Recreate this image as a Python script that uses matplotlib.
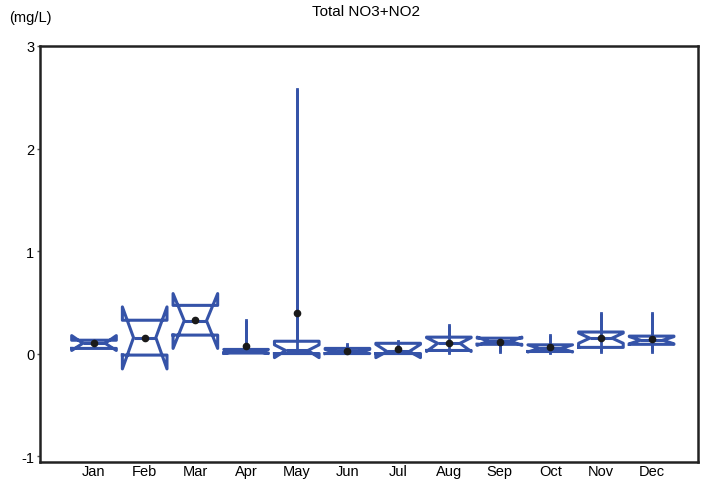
import matplotlib

matplotlib.use("Agg")
import matplotlib.pyplot as plt
import numpy as np

plt.rcParams["font.family"] = ["Liberation Sans", "DejaVu Sans"]

# Monthly box statistics (mg/L)
months = ["Jan", "Feb", "Mar", "Apr", "May", "Jun", "Jul", "Aug", "Sep", "Oct", "Nov", "Dec"]
q1 = [0.05, -0.015, 0.18, 0.005, 0.0, 0.0, 0.0, 0.03, 0.09, 0.02, 0.06, 0.09]
med = [0.10, 0.155, 0.32, 0.02, 0.03, 0.02, 0.02, 0.10, 0.12, 0.05, 0.15, 0.13]
q3 = [0.13, 0.325, 0.47, 0.04, 0.12, 0.05, 0.10, 0.16, 0.15, 0.085, 0.21, 0.17]
cilo = [0.03, -0.15, 0.05, 0.0, -0.04, 0.0, -0.04, 0.02, 0.08, 0.015, 0.10, 0.095]
cihi = [0.175, 0.455, 0.585, 0.04, 0.085, 0.04, 0.09, 0.155, 0.16, 0.085, 0.20, 0.165]
whislo = [0.05, -0.015, 0.18, 0.005, 0.0, 0.0, 0.0, 0.01, 0.015, 0.01, 0.016, 0.016]
whishi = [0.13, 0.325, 0.47, 0.33, 2.58, 0.09, 0.12, 0.28, 0.15, 0.18, 0.40, 0.40]
means = [0.10, 0.155, 0.325, 0.075, 0.40, 0.025, 0.04, 0.105, 0.115, 0.065, 0.155, 0.145]

blue = "#3553a8"

stats = []
for i in range(len(months)):
    stats.append(
        dict(
            label=months[i],
            q1=q1[i],
            med=med[i],
            q3=q3[i],
            cilo=cilo[i],
            cihi=cihi[i],
            whislo=whislo[i],
            whishi=whishi[i],
            mean=means[i],
            fliers=[],
        )
    )

fig = plt.figure(figsize=(7.04, 4.81), dpi=100)
ax = fig.add_axes([40 / 704, 1 - 462.7 / 481, 658 / 704, (462.7 - 47) / 481])

pos = np.arange(1, len(months) + 1)

# whisker line runs through the box, only where there is a whisker
has_whisk = (np.array(whishi) > np.array(q3)) | (np.array(whislo) < np.array(q1))
ax.vlines(pos[has_whisk], np.array(whislo)[has_whisk], np.array(whishi)[has_whisk],
          color=blue, lw=2.0, zorder=1)

ax.bxp(
    stats,
    positions=pos,
    widths=0.88,
    shownotches=True,
    showmeans=True,
    showcaps=False,
    showfliers=False,
    boxprops=dict(color=blue, linewidth=2.2),
    medianprops=dict(color=blue, linewidth=2.2),
    whiskerprops=dict(color=blue, linewidth=2.0),
    meanprops=dict(marker="o", markerfacecolor="#1a1a1a", markeredgecolor="#1a1a1a", markersize=4.5),
    manage_ticks=False,
)

ax.set_xlim(-0.065, 12.915)
ax.set_ylim(-1.055, 3)
ax.set_xticks(pos)
ax.set_xticklabels(months, fontsize=10.5)
ax.set_yticks([-1, 0, 1, 2, 3])
ax.set_yticklabels(["-1", "0", "1", "2", "3"], fontsize=10.5)
ax.tick_params(axis="x", length=0, pad=2)
ax.tick_params(axis="y", length=2, width=1, pad=2, color="#555555")

for s in ax.spines.values():
    s.set_linewidth(1.8)
    s.set_color("#222222")

fig.text(0.52, 0.975, "Total NO3+NO2", ha="center", va="center", fontsize=11)
fig.text(0.013, 0.963, "(mg/L)", ha="left", va="center", fontsize=10.5)

fig.savefig("out.png", dpi=100)
